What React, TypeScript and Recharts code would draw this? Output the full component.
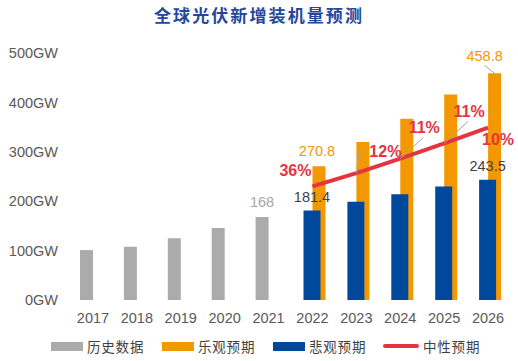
import { Bar, ComposedChart, LabelList, Line, XAxis, YAxis } from "recharts";

// Global PV new installations (GW), historical + three forecast scenarios
const years = ["2017", "2018", "2019", "2020", "2021", "2022", "2023", "2024", "2025", "2026"];
const history = [101, 108, 125, 146, 168, null, null, null, null, null];
const optimistic = [null, null, null, null, null, 270.8, 320, 367, 416, 458.8];
const pessimistic = [null, null, null, null, null, 181.4, 199, 214, 230, 243.5];
const neutral = [null, null, null, null, null, 230, 257, 286, 317, 349];
const growth = [null, null, null, null, null, "36%", "12%", "11%", "11%", "10%"];
const yTicks = [0, 100, 200, 300, 400, 500];

const TITLE = "全球光伏新增装机量预测";
const legendItems = [
  { name: "历史数据", color: "#ababab", kind: "rect" },
  { name: "乐观预期", color: "#f39800", kind: "rect" },
  { name: "悲观预期", color: "#00489b", kind: "rect" },
  { name: "中性预期", color: "#e5343f", kind: "line" },
];

const COLORS = {
  history: "#ababab",
  optimistic: "#f39800",
  pessimistic: "#00489b",
  neutral: "#e5343f",
  axisText: "#595959",
  darkLabel: "#404040",
  leader: "#a6a6a6",
  title: "#25479b",
};

const FONT = "'Liberation Sans', Arial, sans-serif";
const CJK = "'Noto Sans CJK SC', sans-serif";

const seriesValues: Record<string, (number | null)[]> = { history, optimistic, pessimistic };

const data = years.map((year, i) => ({
  year,
  history: history[i],
  optimistic: optimistic[i],
  pessimistic: pessimistic[i],
  neutral: neutral[i],
  growth: growth[i],
}));

// which bars carry a value label (by year index), with text offsets (dx from bar center, dy from bar top to baseline)
const valueLabelLayout: Record<string, Record<number, { dx: number; dy: number; leader?: boolean }>> = {
  history: { 4: { dx: 0, dy: -10 } },
  optimistic: { 5: { dx: -2, dy: -10 }, 9: { dx: -10, dy: -12.5, leader: true } },
  pessimistic: { 5: { dx: 0, dy: -8 }, 9: { dx: 0, dy: -9 } },
};

// growth label placement relative to the line point (text center), optional leader line
const growthLabelLayout: Record<number, { dx: number; dy: number; leader?: number[][] }> = {
  5: { dx: -17, dy: -16 },
  6: { dx: 29, dy: -22, leader: [[0, 0], [3, -21], [9, -22]] },
  7: { dx: 24, dy: -31, leader: [[0, 0], [23, -21]] },
  8: { dx: 25, dy: -32, leader: [[0, 0], [24, -22]] },
  9: { dx: 10, dy: 12 },
};

function makeValueLabel(series: string, color: string) {
  return (props: any) => {
    const { x, y, width, value } = props;
    if (value == null) return null;
    // bars with null values are skipped, so find the year by value
    const yearIndex = seriesValues[series].indexOf(Number(value));
    const layout = valueLabelLayout[series][yearIndex];
    if (!layout) return null;
    const cx = Number(x) + Number(width) / 2;
    const top = Number(y);
    return (
      <g key={`${series}-${yearIndex}`}>
        {layout.leader && (
          <line x1={cx + layout.dx} y1={top - 8} x2={cx} y2={top} stroke={COLORS.leader} strokeWidth={1} />
        )}
        <text
          x={cx + layout.dx}
          y={top + layout.dy}
          textAnchor="middle"
          fontFamily={FONT}
          fontSize={14.5}
          fill={color}
        >
          {value}
        </text>
      </g>
    );
  };
}

function GrowthLabel(props: any) {
  const { x, y, index } = props;
  const layout = growthLabelLayout[index];
  const text = growth[index];
  if (!layout || !text) return null;
  const px = Number(x);
  const py = Number(y);
  return (
    <g key={`growth-${index}`}>
      {layout.leader && (
        <polyline
          points={layout.leader.map(([dx, dy]) => `${px + dx},${py + dy}`).join(" ")}
          fill="none"
          stroke={COLORS.leader}
          strokeWidth={1}
        />
      )}
      <text
        x={px + layout.dx}
        y={py + layout.dy}
        textAnchor="middle"
        dominantBaseline="central"
        fontFamily={FONT}
        fontSize={16}
        fontWeight="bold"
        fill={COLORS.neutral}
      >
        {text}
      </text>
    </g>
  );
}

export default function App() {
  const legendLeft = [51, 162, 273, 383];
  return (
    <div style={{ position: "absolute", left: 0, top: 0, width: 518, height: 361, background: "#fff" }}>
      <div
        style={{
          position: "absolute",
          left: 0,
          top: 4,
          width: 518,
          textAlign: "center",
          fontFamily: CJK,
          fontWeight: 700,
          fontSize: 17,
          letterSpacing: 2.1,
          color: COLORS.title,
          lineHeight: "22px",
        }}
      >
        {TITLE}
      </div>
      <ComposedChart
        width={518}
        height={361}
        data={data}
        margin={{ top: 53, right: 8, bottom: 31, left: 0 }}
        barGap={0}
      >
        <XAxis
          xAxisId="a"
          dataKey="year"
          axisLine={false}
          tickLine={false}
          tickMargin={7}
          tick={{ fontSize: 14.5, fill: COLORS.axisText, fontFamily: FONT }}
          interval={0}
        />
        <XAxis xAxisId="b" dataKey="year" hide />
        <YAxis
          xAxisId="a"
          domain={[0, 500]}
          ticks={yTicks}
          tickFormatter={(v) => `${v}GW`}
          axisLine={false}
          tickLine={false}
          tickMargin={7}
          width={71}
          tick={{ fontSize: 14.5, fill: COLORS.axisText, fontFamily: FONT }}
        />
        <Bar xAxisId="a" dataKey="history" fill={COLORS.history} barSize={13} isAnimationActive={false}>
          <LabelList dataKey="history" content={makeValueLabel("history", "#a6a6a6")} />
        </Bar>
        <Bar xAxisId="a" dataKey="optimistic" fill={COLORS.optimistic} barSize={13} isAnimationActive={false}>
          <LabelList dataKey="optimistic" content={makeValueLabel("optimistic", COLORS.optimistic)} />
        </Bar>
        <Bar xAxisId="b" dataKey="pessimistic" fill={COLORS.pessimistic} barSize={17} isAnimationActive={false}>
          <LabelList dataKey="pessimistic" content={makeValueLabel("pessimistic", COLORS.darkLabel)} />
        </Bar>
        <Line
          xAxisId="a"
          type="linear"
          dataKey="neutral"
          stroke={COLORS.neutral}
          strokeWidth={4}
          dot={false}
          activeDot={false}
          isAnimationActive={false}
        >
          <LabelList dataKey="neutral" content={GrowthLabel} />
        </Line>
      </ComposedChart>
      {legendItems.map((item, i) => (
        <div
          key={item.name}
          style={{
            position: "absolute",
            left: legendLeft[i],
            top: 337,
            height: 18,
            display: "flex",
            alignItems: "center",
            fontFamily: CJK,
            fontSize: 13.5,
            letterSpacing: 0.8,
            color: "#3f3f3f",
            whiteSpace: "nowrap",
          }}
        >
          <span
            style={{
              display: "inline-block",
              width: item.kind === "rect" ? 32 : 36,
              height: item.kind === "rect" ? 9 : 4,
              borderRadius: item.kind === "rect" ? 0 : 2,
              background: item.color,
              marginRight: 4,
            }}
          />
          {item.name}
        </div>
      ))}
    </div>
  );
}
